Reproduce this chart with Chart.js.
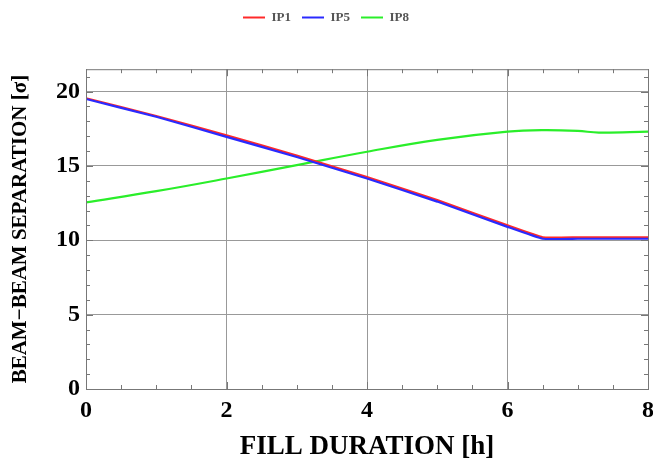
<!DOCTYPE html>
<html>
<head>
<meta charset="utf-8">
<script src="https://cdn.jsdelivr.net/npm/chart.js@4"></script>
<style>
  html, body { margin: 0; padding: 0; background: #fff; }
  #wrap { width: 653px; height: 462px; }
</style>
</head>
<body>
<div id="wrap"><canvas id="chart" width="653" height="462"></canvas></div>
<script>
// fill duration in hours
const hours = [0, 1, 2, 3, 4, 5, 6, 6.5, 7, 7.3, 8];
// beam-beam separation in sigma
const ip1 = [19.55, 18.35, 17.05, 15.7, 14.25, 12.7, 11.0, 10.2, 10.2, 10.2, 10.2];
const ip5 = [19.5, 18.3, 16.95, 15.6, 14.15, 12.6, 10.9, 10.1, 10.1, 10.1, 10.1];
const ip8 = [12.55, 13.3, 14.15, 15.05, 15.95, 16.75, 17.3, 17.4, 17.35, 17.24, 17.3];
const xTicks = [0, 2, 4, 6, 8];
const yTicks = [0, 5, 10, 15, 20];

const pts = (ys) => hours.map((h, i) => ({ x: h, y: ys[i] }));
const serif = "'Liberation Serif', 'DejaVu Serif', serif";

// mathematica-style frame with inward ticks
const framePlugin = {
  id: 'frame',
  afterDatasetsDraw(chart) {
    const { ctx, chartArea: a, scales } = chart;
    const xs = scales.x, ys = scales.y;
    ctx.save();
    ctx.strokeStyle = '#777';
    ctx.lineWidth = 1;
    ctx.strokeRect(a.left + 0.5, a.top + 0.5, a.right - a.left, a.bottom - a.top);
    ctx.beginPath();
    for (let v = 0; v <= 8.001; v += 0.5) {
      const px = Math.round(xs.getPixelForValue(v)) + 0.5;
      const len = (v % 2 === 0) ? 7 : 4;
      ctx.moveTo(px, a.bottom); ctx.lineTo(px, a.bottom - len);
      ctx.moveTo(px, a.top); ctx.lineTo(px, a.top + len);
    }
    for (let v = 0; v <= 21; v += 1) {
      const py = Math.round(ys.getPixelForValue(v)) + 0.5;
      const len = (v % 5 === 0) ? 7 : 4;
      ctx.moveTo(a.left, py); ctx.lineTo(a.left + len, py);
      ctx.moveTo(a.right, py); ctx.lineTo(a.right - len, py);
    }
    ctx.stroke();
    ctx.restore();
  }
};

new Chart(document.getElementById('chart'), {
  type: 'line',
  data: {
    datasets: [
      { label: 'IP1', data: pts(ip1), borderColor: '#ff2a2a', tension: 0.1, order: 1 },
      { label: 'IP5', data: pts(ip5), borderColor: '#2a2aff', tension: 0.1, order: 0 },
      { label: 'IP8', data: pts(ip8), borderColor: '#2aee2a', tension: 0.4, order: 2 }
    ]
  },
  options: {
    responsive: false,
    animation: false,
    layout: { padding: { left: 4, right: 5, top: 0, bottom: 0 } },
    elements: {
      point: { radius: 0 },
      line: { borderWidth: 2.2, fill: false }
    },
    plugins: {
      tooltip: { enabled: false },
      // empty spacer between legend and plot
      title: {
        display: true,
        text: ' ',
        weight: 500,
        padding: { top: 0, bottom: 34 },
        font: { size: 1 }
      },
      legend: {
        position: 'top',
        labels: {
          boxWidth: 22,
          boxHeight: 2,
          padding: 11,
          color: '#555',
          font: { family: serif, size: 13, weight: 'bold' },
          generateLabels(chart) {
            return chart.data.datasets.map((d, i) => ({
              text: d.label,
              fillStyle: d.borderColor,
              strokeStyle: d.borderColor,
              lineWidth: 0,
              datasetIndex: i,
              fontColor: '#555'
            }));
          },
          sort: (a, b) => a.datasetIndex - b.datasetIndex
        }
      }
    },
    scales: {
      x: {
        type: 'linear',
        min: 0,
        max: 8,
        afterBuildTicks: (s) => { s.ticks = xTicks.map(v => ({ value: v })); },
        afterFit: (s) => { s.height = 73; s.paddingLeft = 0; s.paddingRight = 0; },
        ticks: { color: '#000', padding: 7, font: { family: serif, size: 24, weight: 'bold' } },
        grid: { color: '#999', drawTicks: false },
        border: { display: false },
        title: {
          display: true,
          text: 'FILL DURATION [h]',
          color: '#000',
          padding: { top: 0, bottom: 1 },
          font: { family: serif, size: 27, weight: 'bold', lineHeight: 1 }
        }
      },
      y: {
        min: 0,
        max: 21.5,
        afterBuildTicks: (s) => { s.ticks = yTicks.map(v => ({ value: v })); },
        afterFit: (s) => { s.width = 82; },
        ticks: { color: '#000', padding: 6, font: { family: serif, size: 24, weight: 'bold' } },
        grid: { color: '#999', drawTicks: false },
        border: { display: false },
        title: {
          display: true,
          text: 'BEAM\u2212BEAM SEPARATION [\u03C3]',
          color: '#000',
          padding: { top: 6, bottom: 0 },
          font: { family: serif, size: 21, weight: 'bold', lineHeight: 1 }
        }
      }
    }
  },
  plugins: [framePlugin]
});
</script>
</body>
</html>
